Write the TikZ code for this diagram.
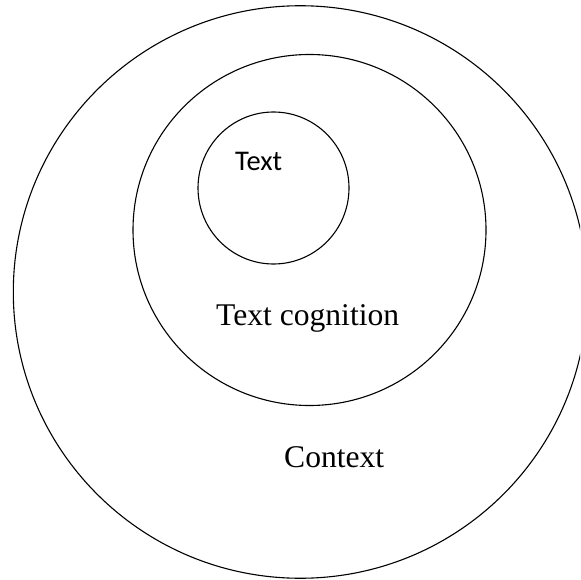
\documentclass[tikz,border=0pt]{standalone}
\usepackage{fontspec}
\setmainfont{Liberation Serif}
\newfontfamily\calibrifont{Carlito}
\usetikzlibrary{shapes.geometric}
\begin{document}
\begin{tikzpicture}[x=1pt,y=-1pt,
  ring/.style={draw=black, line width=1.1pt, ellipse, inner sep=0pt},
  lbl/.style={anchor=base west, inner sep=0pt, font=\fontsize{31.6}{38}\selectfont},
  sanslbl/.style={anchor=base west, inner sep=0pt, font=\calibrifont\fontsize{28.5}{34}\selectfont}]
\useasboundingbox (0,0) rectangle (580,580);
\clip (0,0) rectangle (580,580);
\node[ring, minimum width=574pt, minimum height=572.5pt] (outer) at (300.3,292) {};
\node[ring, minimum width=353pt, minimum height=351pt] (middle) at (309.5,230) {};
\node[ring, minimum width=151pt, minimum height=152pt] (inner) at (273.5,188) {};
\node[sanslbl] (t1) at (235,170) {Text};
\node[lbl] (t2) at (216,325.6) {Text cognition};
\node[lbl] (t3) at (284,467) {Context};
\end{tikzpicture}
\end{document}
